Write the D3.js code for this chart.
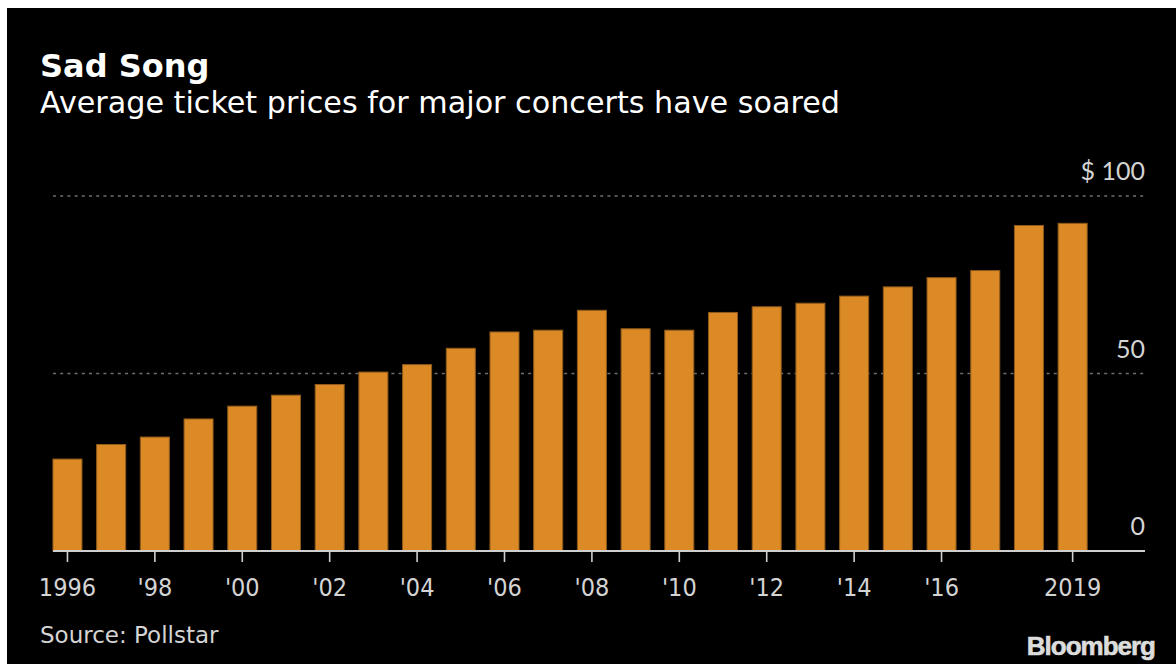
<!DOCTYPE html>
<html>
<head>
<meta charset="utf-8">
<script src="https://cdn.jsdelivr.net/npm/d3@7"></script>
<style>
  html, body { margin: 0; padding: 0; background: #ffffff; }
  svg { display: block; }
</style>
</head>
<body>
<svg id="chart" width="1176" height="664"></svg>
<script>
// Average concert ticket price (USD), Pollstar
const years = [1996, 1997, 1998, 1999, 2000, 2001, 2002, 2003, 2004, 2005, 2006, 2007,
               2008, 2009, 2010, 2011, 2012, 2013, 2014, 2015, 2016, 2017, 2018, 2019];
const prices = [25.9, 30.0, 32.1, 37.2, 40.8, 43.9, 46.9, 50.4, 52.5, 57.1, 61.7, 62.2,
                67.8, 62.6, 62.2, 67.2, 68.8, 69.8, 71.8, 74.4, 77.0, 79.0, 91.7, 92.3];
const xTickYears = [1996, 1998, 2000, 2002, 2004, 2006, 2008, 2010, 2012, 2014, 2016, 2019];
const xTickLabels = ["1996", "'98", "'00", "'02", "'04", "'06", "'08", "'10", "'12", "'14", "'16", "2019"];
const yTickValues = [0, 50, 100];
const yTickLabels = ["0", "50", "$ 100"];

const svg = d3.select("#chart");
const sans = "'DejaVu Sans', Verdana, sans-serif";
const condensed = "'DejaVu Sans Condensed', 'DejaVu Sans', sans-serif";

// dark panel
svg.append("rect")
  .attr("x", 7).attr("y", 8)
  .attr("width", 1169).attr("height", 656)
  .attr("fill", "#000000");

const plotLeft = 53, plotRight = 1145;

const x = d3.scaleBand()
  .domain(years)
  .range([45.6, 1094.5])
  .paddingInner(0.336)
  .paddingOuter(0.168);

const y = d3.scaleLinear()
  .domain([0, 100])
  .range([551, 196]);

// titles
svg.append("text")
  .attr("x", 40).attr("y", 77)
  .attr("fill", "#ffffff")
  .attr("font-family", sans)
  .attr("font-weight", "bold")
  .attr("font-size", 32)
  .text("Sad Song");

svg.append("text")
  .attr("x", 40).attr("y", 113)
  .attr("fill", "#ffffff")
  .attr("font-family", sans)
  .attr("font-size", 30.2)
  .text("Average ticket prices for major concerts have soared");

// dotted gridlines (above zero)
svg.append("g")
  .selectAll("line")
  .data(yTickValues.filter(v => v > 0))
  .join("line")
  .attr("x1", plotLeft).attr("x2", plotRight)
  .attr("y1", d => y(d)).attr("y2", d => y(d))
  .attr("stroke", "#6e6e6e")
  .attr("stroke-width", 1.4)
  .attr("stroke-dasharray", "3,4.2");

// right-hand value labels
svg.append("g")
  .selectAll("text")
  .data(yTickValues)
  .join("text")
  .attr("x", plotRight)
  .attr("y", d => y(d) - 16)
  .attr("text-anchor", "end")
  .attr("fill", "#d4d4d4")
  .attr("font-family", "Lato, 'Open Sans', sans-serif")
  .attr("font-size", 25)
  .text((d, i) => yTickLabels[i]);

// bars
svg.append("g")
  .selectAll("rect")
  .data(years)
  .join("rect")
  .attr("x", d => x(d))
  .attr("width", x.bandwidth())
  .attr("y", (d, i) => y(prices[i]))
  .attr("height", (d, i) => y(0) - y(prices[i]))
  .attr("fill", "#dc8a26")
  .attr("stroke", "#8f5a1b")
  .attr("stroke-width", 1);

// baseline
svg.append("line")
  .attr("x1", plotLeft).attr("x2", plotRight)
  .attr("y1", y(0)).attr("y2", y(0))
  .attr("stroke", "#cfcfcf")
  .attr("stroke-width", 2);

// x axis ticks and labels
const xAxis = d3.axisBottom(x)
  .tickValues(xTickYears)
  .tickSize(11)
  .tickFormat(d => xTickLabels[xTickYears.indexOf(d)]);

const gx = svg.append("g")
  .attr("transform", `translate(0,${y(0)})`)
  .call(xAxis);
gx.select(".domain").remove();
gx.selectAll(".tick line")
  .attr("stroke", "#cfcfcf")
  .attr("stroke-width", 1.6);
gx.selectAll(".tick text")
  .attr("y", 45)
  .attr("dy", 0)
  .attr("fill", "#d4d4d4")
  .attr("font-family", condensed)
  .attr("font-size", 25);

// source note
svg.append("text")
  .attr("x", 40).attr("y", 643)
  .attr("fill", "#d4d4d4")
  .attr("font-family", sans)
  .attr("font-size", 23)
  .text("Source: Pollstar");

// wordmark
svg.append("text")
  .attr("x", 1155).attr("y", 655)
  .attr("text-anchor", "end")
  .attr("fill", "#dcdcdc")
  .attr("stroke", "#dcdcdc")
  .attr("stroke-width", 0.6)
  .attr("font-family", "'Liberation Sans', Arial, sans-serif")
  .attr("font-weight", "bold")
  .attr("font-size", 26)
  .attr("letter-spacing", -1)
  .text("Bloomberg");
</script>
</body>
</html>
